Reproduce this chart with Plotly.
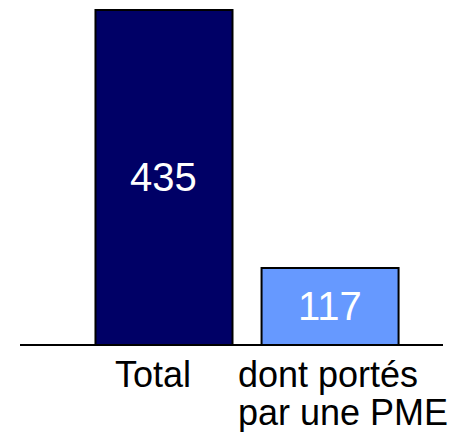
import plotly.graph_objects as go

categories = ["Total", "dont portés<br>par une PME"]
values = [435, 117]
bar_colors = ["#000066", "#6699FF"]
y_min, y_max = 23.3, 441.2

# label placement: (xanchor, xshift)
label_place = [("center", -11), ("left", -94)]
FONT = "Liberation Sans, Arial, sans-serif"

fig = go.Figure()
fig.add_trace(go.Bar(
    x=categories, y=values,
    marker=dict(color=bar_colors, line=dict(color="black", width=2)),
    width=0.825, hoverinfo="skip",
))

# value labels centered in each bar
for cat, v in zip(categories, values):
    fig.add_annotation(
        x=cat, xref="x", y=(y_min + v) / 2, yref="y", yanchor="middle",
        text=str(v), showarrow=False, yshift=0,
        font=dict(family=FONT, size=40, color="white"),
    )

for cat, (anchor, xs) in zip(categories, label_place):
    for j, line in enumerate(cat.split("<br>")):
        fig.add_annotation(
            x=cat, xref="x", y=0, yref="paper", yanchor="top", xanchor=anchor,
            text=line, showarrow=False, xshift=xs, yshift=-8 - 38 * j,
            font=dict(family=FONT, size=36, color="black"),
        )

fig.update_layout(
    width=455, height=432,
    margin=dict(l=20, r=12, t=5, b=88),
    paper_bgcolor="white", plot_bgcolor="white",
    showlegend=False,
    xaxis=dict(range=[-0.867, 1.68], showticklabels=False, ticks="",
               showline=True, linecolor="black", linewidth=2, showgrid=False, zeroline=False),
    yaxis=dict(range=[y_min, y_max], visible=False),
)
fig.write_html("out.html", config={"displayModeBar": False},
               post_script="document.body.style.margin='0';document.body.style.padding='0';")
